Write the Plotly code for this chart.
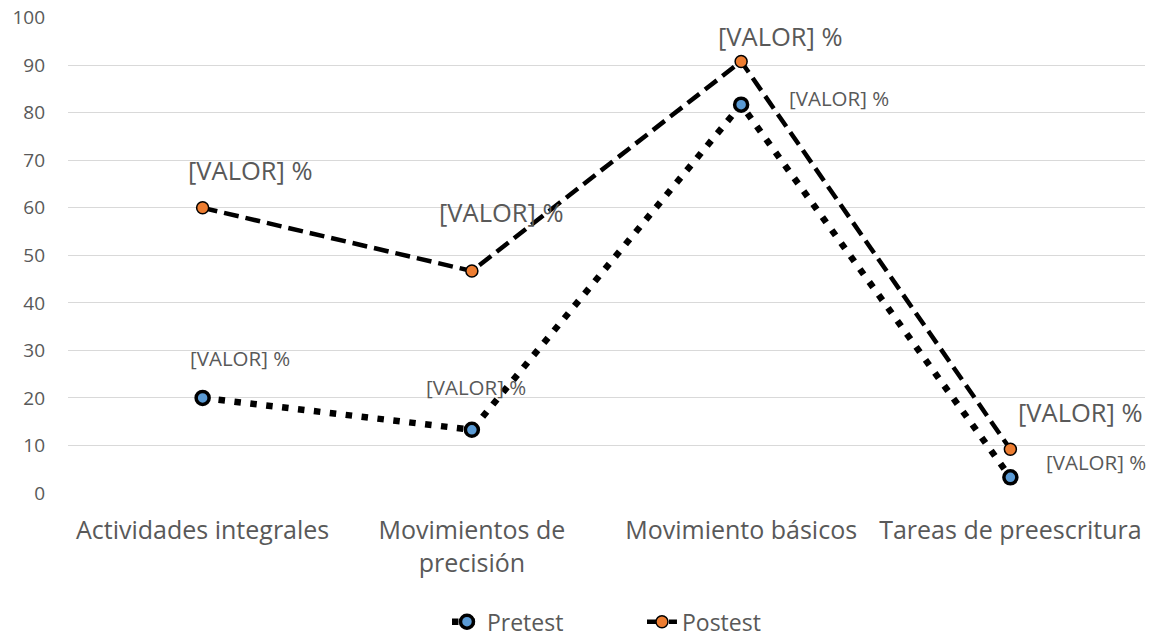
import plotly.graph_objects as go

categories = ["Actividades integrales", "Movimientos de<br>precisión", "Movimiento básicos", "Tareas de preescritura"]
pretest = [20, 13.3, 81.7, 3.3]
postest = [60, 46.7, 90.8, 9.2]
label_text = "[VALOR] %"
y_ticks = list(range(0, 101, 10))

FONT = "'Open Sans', sans-serif"
GREY = "#595959"

fig = go.Figure()
fig.add_trace(go.Scatter(
    x=categories, y=pretest, name="Pretest", mode="lines+markers",
    line=dict(color="black", width=6.5, dash="6.5px,9.5px"),
    marker=dict(symbol="circle", size=13, color="#5B9BD5", line=dict(color="black", width=3.5)),
))
fig.add_trace(go.Scatter(
    x=categories, y=postest, name="Postest", mode="lines+markers",
    line=dict(color="black", width=4.5, dash="15px,7px"),
    marker=dict(symbol="circle", size=12, color="#ED7D31", line=dict(color="black", width=1.5)),
))

post_shifts = [(48, 38), (30, 59), (39, 25), (70, 37)]
pre_shifts = [(37, 40), (4, 43), (98, 7), (86, 15)]
for c, v, (dx, dy) in zip(categories, postest, post_shifts):
    fig.add_annotation(x=c, y=v, text=label_text, showarrow=False, xshift=dx, yshift=dy,
                       font=dict(family=FONT, size=25.5, color=GREY))
for c, v, (dx, dy) in zip(categories, pretest, pre_shifts):
    fig.add_annotation(x=c, y=v, text=label_text, showarrow=False, xshift=dx, yshift=dy,
                       font=dict(family=FONT, size=20.5, color=GREY))

fig.update_layout(
    width=1154, height=641,
    margin=dict(l=68, r=9, t=17, b=148, autoexpand=False),
    paper_bgcolor="white", plot_bgcolor="white",
    font=dict(family=FONT, color=GREY),
    showlegend=True,
    legend=dict(orientation="h", x=0.5563, xanchor="center", xref="container",
                y=0.03, yanchor="middle", yref="container",
                font=dict(family=FONT, size=23, color=GREY), entrywidth=150),
)
fig.update_xaxes(range=[-0.5, 3.5], showgrid=False, showline=False, zeroline=False, ticks="",
                 tickfont=dict(family=FONT, size=25, color=GREY), ticklabelstandoff=20)
fig.update_yaxes(range=[0, 100.15], tickvals=y_ticks, showgrid=True, gridcolor="#D9D9D9", gridwidth=1.3,
                 zeroline=False, showline=False, ticks="", ticklabeloverflow="allow",
                 tickfont=dict(family=FONT, size=19, color=GREY), ticklabelstandoff=22)

fig.write_html("out.html", config={"displayModeBar": False},
               post_script="document.body.style.margin='0';")
